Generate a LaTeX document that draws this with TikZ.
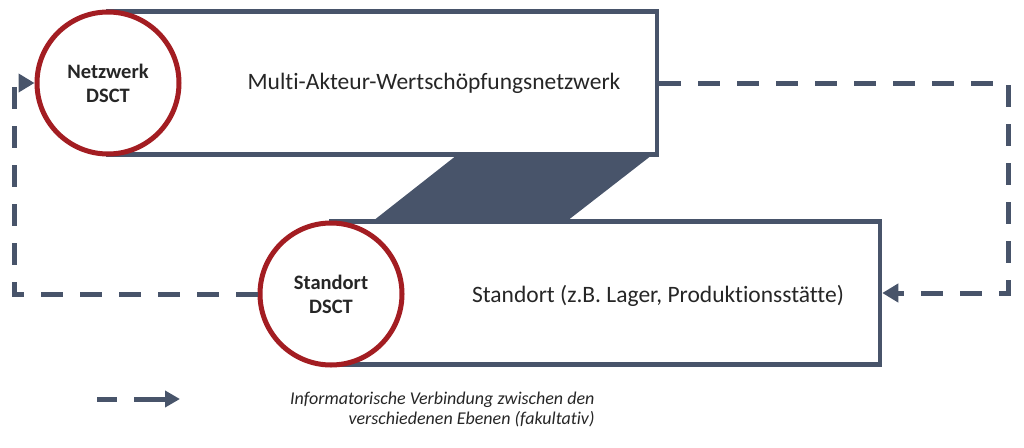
\documentclass[tikz,border=0pt]{standalone}
\usepackage{fontspec}
\setmainfont[Ligatures={NoCommon}]{Carlito}
\usepackage{xcolor}
\usetikzlibrary{arrows.meta}
\definecolor{schiefer}{HTML}{48546A}
\definecolor{dsctrot}{HTML}{A31D22}
\definecolor{schrift}{HTML}{262626}

\tikzset{
  ebene/.style={draw=schiefer, line width=4.5pt, fill=white, minimum width=549pt, minimum height=143pt, inner sep=0pt},
  dsct/.style={circle, draw=dsctrot, line width=5pt, fill=white, minimum size=142pt, inner sep=0pt, align=center, text=schrift, font=\fontsize{20.5}{24}\selectfont\bfseries},
  info/.style={draw=schiefer, line width=5pt, dash pattern=on 22pt off 17pt, -{Triangle[length=16pt,width=18pt]}},
  beschr/.style={text=schrift, font=\fontsize{23.5}{28}\selectfont}
}

\begin{document}
\begin{tikzpicture}[x=1pt,y=-1pt]
\useasboundingbox (0,0) rectangle (1024,447);

% Uebergang zwischen den Ebenen
\fill[schiefer] (457,155) -- (652,155) -- (567,221) -- (373,221) -- cycle;

% Ebenen
\node[ebene] (netz) at (382.5,83) {};
\node[ebene] (standort) at (605.5,293) {};
\node[beschr] (netztext) at (434,83) {Multi-Akteur-Wertschöpfungsnetzwerk};
\node[beschr] (standorttext) at (658,296) {Standort (z.B. Lager, Produktionsstätte)};

% DSCT
\node[dsct] (netzdsct) at (108,83) {Netzwerk\\DSCT};
\node[dsct] (standortdsct) at (331,294) {Standort\\DSCT};

% informatorische Verbindungen
\coordinate (rechts) at (1008,83);
\coordinate (links) at (14,294);
\draw[info] (netz.east) -- (rechts) |- (standort.east);
\draw[info] (standortdsct.west) -- (links) |- (netzdsct.west);

% Legende
\coordinate (legstart) at (97,399);
\coordinate (legende) at (180,399);
\draw[info, dash pattern=on 20pt off 17pt on 40pt off 17pt, -{Triangle[length=15pt,width=16pt]}] (legstart) -- (legende);
\node[anchor=east, align=right, text=schrift, font=\fontsize{18}{20}\selectfont\itshape] (legtext) at (598,409) {Informatorische Verbindung zwischen den\\verschiedenen Ebenen (fakultativ)};

\end{tikzpicture}
\end{document}
